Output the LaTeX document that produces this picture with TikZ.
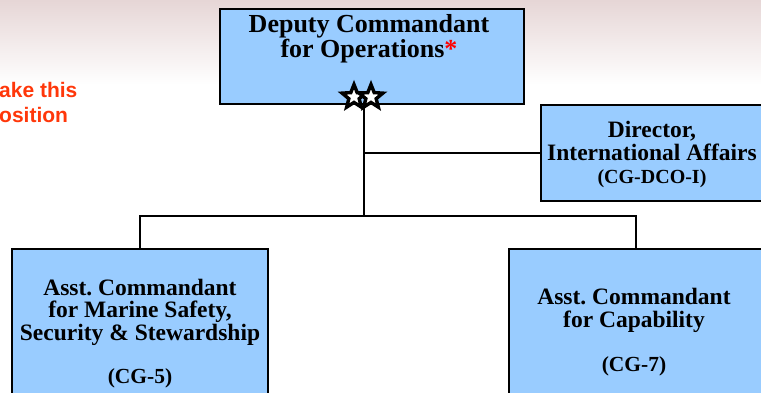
\documentclass[tikz,border=0pt]{standalone}
\usepackage{fontspec}
\setmainfont{Liberation Serif}
\newfontfamily\sansred{Liberation Sans}
\usetikzlibrary{shapes.geometric}
\definecolor{boxblue}{RGB}{153,204,255}
\definecolor{orgred}{RGB}{255,55,10}
\definecolor{bgpink}{RGB}{230,214,214}
\frenchspacing
\begin{document}
\begin{tikzpicture}[x=1pt,y=-1pt,
  orgbox/.style={rectangle, draw=black, line width=2.2pt, fill=boxblue, inner sep=0pt},
  conn/.style={draw=black, line width=2pt},
  txt/.style={align=center, inner sep=0pt, text=black},
  bigfont/.style={font=\bfseries\fontsize{26}{22.5}\selectfont},
  midfont/.style={font=\bfseries\fontsize{23.5}{22.5}\selectfont},
  codefont/.style={font=\bfseries\fontsize{21.5}{22}\selectfont},
  smallcode/.style={font=\bfseries\fontsize{20}{22}\selectfont},
  redtxt/.style={inner sep=0pt, text=orgred, font=\sansred\bfseries\fontsize{21}{24}\selectfont},
  starnode/.style={star, star points=5, star point ratio=2.3, minimum size=25pt, inner sep=0pt, draw=black, line width=3.4pt, line join=miter, fill=white}
]
\useasboundingbox (0,0) rectangle (761,392);
\clip (0,0) rectangle (761,392);
\shade[top color=bgpink, bottom color=white] (0,0) rectangle (761,85);

% junction coordinates
\coordinate (jd) at (364,153);
\coordinate (j) at (364,216);

% boxes
\node[orgbox, minimum width=304pt, minimum height=95pt] (dco) at (372,56.5) {};
\node[orgbox, minimum width=222pt, minimum height=96pt] (dir) at (652,153) {};
\node[orgbox, minimum width=256pt, minimum height=152pt] (cg5) at (140,325) {};
\node[orgbox, minimum width=254pt, minimum height=152pt] (cg7) at (636,325) {};

% connectors
\draw[conn] (j |- dco.south) -- (j);
\draw[conn] (jd) -- (dir.west |- jd);
\draw[conn] (cg5.north) |- (j) -| (cg7.north);

% stars
\node[starnode] (s1) at (354,97) {};
\node[starnode] (s2) at (371,97) {};

% texts (base anchor = baseline of last line)
\node[txt, bigfont, anchor=base] (dcot) at (369,57) {Deputy Commandant\\for Operations\textcolor{red}{*}};
\node[txt, midfont, anchor=base] (dirt) at (652,160) {Director,\\International Affairs};
\node[txt, smallcode, anchor=base] (dirc) at (652,183) {(CG-DCO-I)};
\node[txt, midfont, anchor=base] (cg5t) at (140,340) {Asst. Commandant\\for Marine Safety,\\Security \& Stewardship};
\node[txt, codefont, anchor=base] (cg5c) at (140,383) {(CG-5)};
\node[txt, midfont, anchor=base] (cg7t) at (634,327) {Asst. Commandant\\for Capability};
\node[txt, codefont, anchor=base] (cg7c) at (634,371) {(CG-7)};

\node[redtxt, anchor=base west] (r1) at (-1,97) {ake this};
\node[redtxt, anchor=base west] (r2) at (-1,122) {osition};
\end{tikzpicture}
\end{document}
